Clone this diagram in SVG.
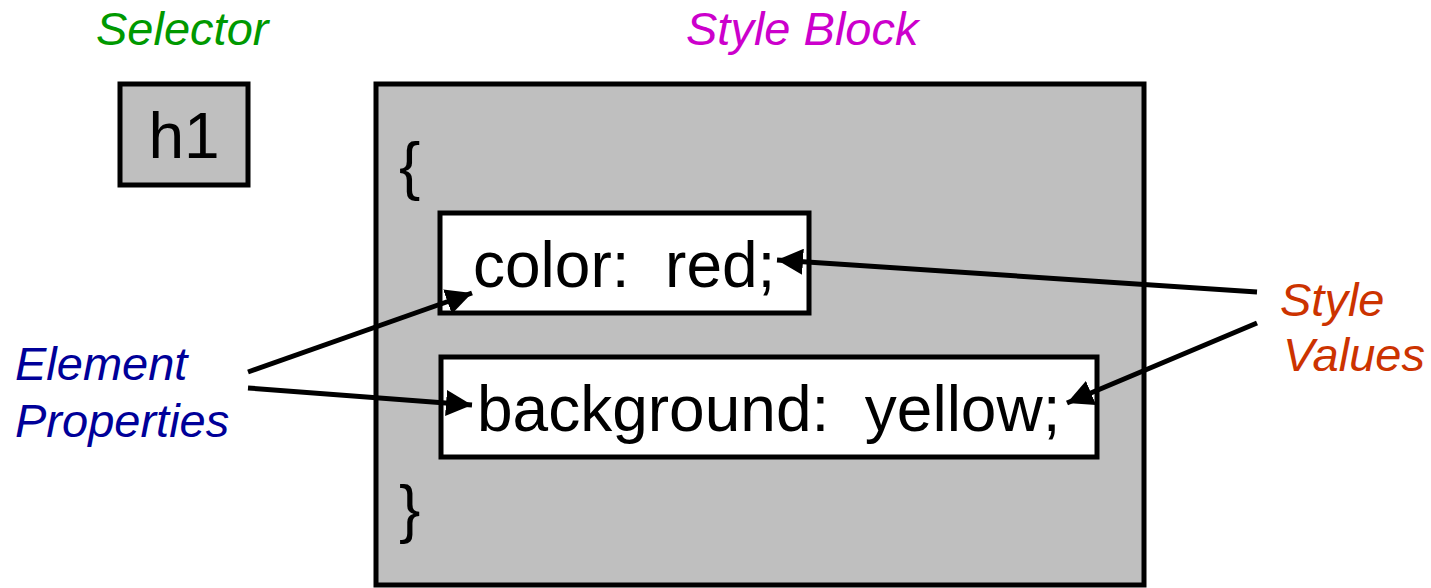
<svg xmlns="http://www.w3.org/2000/svg" width="1431" height="588" viewBox="0 0 1431 588">
<style>
.box{stroke:#000;stroke-width:5}
.gray{fill:#bfbfbf}
.white{fill:#fff}
.code{font-family:"Liberation Sans",Arial,sans-serif;font-size:64px;fill:#000}
.lbl{font-family:"Liberation Sans",Arial,sans-serif;font-size:47px;font-style:italic}
.conn{stroke:#000;stroke-width:5;fill:none;marker-end:url(#arr)}
</style>
<defs>
<marker id="arr" markerUnits="userSpaceOnUse" markerWidth="28" markerHeight="26" refX="26" refY="13" orient="auto">
<path d="M0,0 L26,13 L0,26 z" fill="#000"/>
</marker>
</defs>
<rect width="1431" height="588" fill="#fff"/>
<g id="selector-label"><text class="lbl" x="96" y="45" fill="#009900">Selector</text></g>
<g id="styleblock-label"><text class="lbl" x="686" y="45" fill="#cc00cc">Style Block</text></g>
<g id="h1-node">
<rect class="box gray" x="120" y="84" width="128" height="101"/>
<text class="code" x="184" y="158" text-anchor="middle">h1</text>
</g>
<g id="style-block">
<rect class="box gray" x="376" y="84" width="768" height="501"/>
<text class="code" x="399" y="188">{</text>
<text class="code" x="399" y="531">}</text>
</g>
<g id="color-node">
<rect class="box white" x="440" y="213" width="369" height="100"/>
<text class="code" x="473" y="287" xml:space="preserve">color:  red;</text>
</g>
<g id="background-node">
<rect class="box white" x="441" y="357" width="656" height="100"/>
<text class="code" x="477" y="431" xml:space="preserve">background:  yellow;</text>
</g>
<g id="element-properties">
<text class="lbl" fill="#000099"><tspan x="15" y="380">Element</tspan><tspan x="15" y="437">Properties</tspan></text>
</g>
<g id="style-values">
<text class="lbl" fill="#cc3300"><tspan x="1280" y="316">Style</tspan><tspan x="1283" y="371">Values</tspan></text>
</g>
<g id="connectors">
<line class="conn" x1="248" y1="372" x2="472" y2="293"/>
<line class="conn" x1="248" y1="388" x2="472" y2="405"/>
<line class="conn" x1="1257" y1="292" x2="777" y2="260"/>
<line class="conn" x1="1257" y1="323" x2="1067" y2="403"/>
</g>
</svg>
